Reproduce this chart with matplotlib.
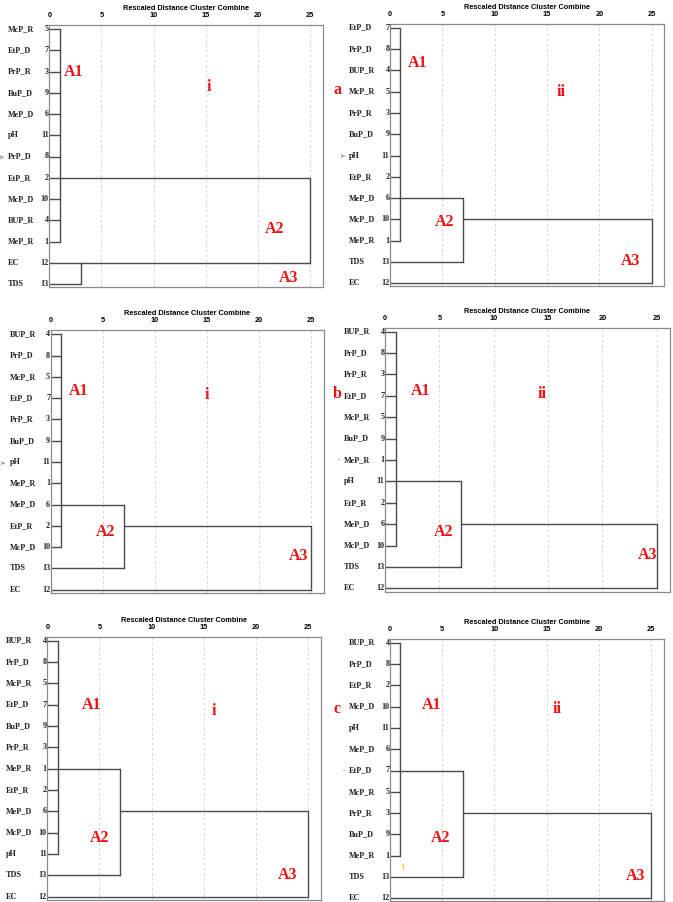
import matplotlib
matplotlib.use('Agg')
import matplotlib.pyplot as plt
import matplotlib.transforms as mtransforms

# Daten: Reihenfolge der Blätter, Fallnummern und Verknüpfungen je Dendrogramm
labels_a1 = ['McP_R', 'EtP_D', 'PrP_R', 'BuP_D', 'MeP_D', 'pH', 'PrP_D',
             'EtP_R', 'McP_D', 'BUP_R', 'MeP_R', 'EC', 'TDS']
numbers_a1 = [5, 7, 3, 9, 6, 11, 8, 2, 10, 4, 1, 12, 13]
merges_a1 = [(list(range(11)), 1, 7), ([11, 12], 3, 11), ([13, 14], 25, None)]

labels_a2 = ['EtP_D', 'PrP_D', 'BUP_R', 'McP_R', 'PrP_R', 'BuP_D', 'pH',
             'EtP_R', 'MeP_D', 'McP_D', 'MeP_R', 'TDS', 'EC']
numbers_a2 = [7, 8, 4, 5, 3, 9, 11, 2, 6, 10, 1, 13, 12]
merges_a2 = [(list(range(11)), 1, 8), ([13, 11], 7, 9), ([14, 12], 25, None)]

labels_b1 = ['BUP_R', 'PrP_D', 'McP_R', 'EtP_D', 'PrP_R', 'BuP_D', 'pH',
             'MeP_R', 'MeP_D', 'EtP_R', 'McP_D', 'TDS', 'EC']
numbers_b1 = [4, 8, 5, 7, 3, 9, 11, 1, 6, 2, 10, 13, 12]
merges_b1 = [(list(range(11)), 1, 8), ([13, 11], 7, 9), ([14, 12], 25, None)]

labels_b2 = ['BUP_R', 'PrP_D', 'PrP_R', 'EtP_D', 'McP_R', 'BuP_D', 'MeP_R',
             'pH', 'EtP_R', 'MeP_D', 'McP_D', 'TDS', 'EC']
numbers_b2 = [4, 8, 3, 7, 5, 9, 1, 11, 2, 6, 10, 13, 12]
merges_b2 = [(list(range(11)), 1, 7), ([13, 11], 7, 9), ([14, 12], 25, None)]

labels_c1 = ['BUP_R', 'PrP_D', 'McP_R', 'EtP_D', 'BuP_D', 'PrP_R', 'MeP_R',
             'EtP_R', 'MeP_D', 'McP_D', 'pH', 'TDS', 'EC']
numbers_c1 = [4, 8, 5, 7, 9, 3, 1, 2, 6, 10, 11, 13, 12]
merges_c1 = [(list(range(11)), 1, 6), ([13, 11], 7, 8), ([14, 12], 25, None)]

labels_c2 = ['BUP_R', 'PrP_D', 'EtP_R', 'McP_D', 'pH', 'MeP_D', 'EtP_D',
             'McP_R', 'PrP_R', 'BuP_D', 'MeP_R', 'TDS', 'EC']
numbers_c2 = [4, 8, 2, 10, 11, 6, 7, 5, 3, 9, 1, 13, 12]
merges_c2 = [(list(range(11)), 1, 6), ([13, 11], 7, 8), ([14, 12], 25, None)]

# Beschriftungen (Text, x-Abstand, Zeile)
notes_a1 = [('A1', 2.3, 2.0), ('i', 15.3, 2.75), ('A2', 21.6, 9.4), ('A3', 22.9, 11.7)]
notes_a2 = [('A1', 2.6, 1.67), ('ii', 16.3, 3.0), ('A2', 5.25, 9.1), ('A3', 23.0, 10.95)]
notes_b1 = [('A1', 2.65, 2.65), ('i', 15.0, 2.85), ('A2', 5.3, 9.28), ('A3', 23.8, 10.4)]
notes_b2 = [('A1', 3.3, 2.76), ('ii', 14.5, 2.93), ('A2', 5.4, 9.35), ('A3', 24.2, 10.44)]
notes_c1 = [('A1', 4.25, 3.0), ('i', 15.95, 3.3), ('A2', 5.05, 9.27), ('A3', 23.0, 10.98)]
notes_c2 = [('A1', 4.0, 2.92), ('ii', 15.97, 3.11), ('A2', 4.8, 9.18), ('A3', 23.5, 10.95)]

side_marks = ['Y', 'Y', 'Y', '-', '·', '-']
ticks = [0, 5, 10, 15, 20, 25]

W, H = 673, 902
fig = plt.figure(figsize=(W / 100, H / 100), dpi=100)

LINE = '#4a4a4a'
FRAME = '#8a8a8a'
RED = '#ee1111'


def draw_panel(geom, labels, numbers, merges, notes, mark):
    x0, x25, r0, r12, xright = geom
    unit = (x25 - x0) / 25
    sp = (r12 - r0) / 12
    xmax = (xright - x0) / unit
    top = r0 - 0.18 * sp
    bot = r12 + 0.15 * sp
    ax = fig.add_axes([x0 / W, 1 - bot / H, (xright - x0) / W, (bot - top) / H])
    ax.set_xlim(0, xmax)
    ax.set_ylim(12 + 0.15, -0.18)

    # Dendrogramm aus den Verknüpfungen zeichnen
    rows = list(range(len(labels)))
    heights = [0] * len(labels)
    for members, dist, out_row in merges:
        rs = [rows[m] for m in members]
        for m in members:
            ax.plot([heights[m], dist], [rows[m], rows[m]], color=LINE, lw=1.0,
                    solid_capstyle='butt')
        ax.plot([dist, dist], [min(rs), max(rs)], color=LINE, lw=1.0)
        rows.append(out_row)
        heights.append(dist)

    for t in ticks[1:]:
        ax.axvline(t, color='#cfcfcf', lw=0.6, ls=(0, (3, 3)), zorder=0)

    for s in ax.spines.values():
        s.set_color(FRAME)
        s.set_linewidth(0.9)

    ax.xaxis.tick_top()
    ax.set_xticks(ticks)
    ax.set_xticklabels([str(t) for t in ticks], fontsize=5.3, fontweight='bold',
                       family='Liberation Sans')
    ax.tick_params(axis='x', length=0, pad=4.5)
    ax.set_yticks([])
    ax.set_title('Rescaled Distance Cluster Combine', fontsize=5.3, fontweight='bold',
                 family='Liberation Sans', pad=11)

    lab_tr = mtransforms.offset_copy(ax.transData, fig=fig, x=-41, y=0, units='dots')
    num_tr = mtransforms.offset_copy(ax.transData, fig=fig, x=-0.5, y=0, units='dots')
    mark_tr = mtransforms.offset_copy(ax.transData, fig=fig, x=-46, y=0, units='dots')
    for i, (lab, num) in enumerate(zip(labels, numbers)):
        ax.text(0, i, lab, transform=lab_tr, ha='left', va='center', fontsize=5.9,
                fontweight='bold', family='Liberation Serif', color='#222', clip_on=False)
        ax.text(0, i, str(num), transform=num_tr, ha='right', va='center', fontsize=5.9,
                fontweight='bold', family='Liberation Serif', color='#222', clip_on=False)
    ax.text(0, 6, mark, transform=mark_tr, ha='center', va='center', fontsize=4.5,
            rotation=90 if mark == 'Y' else 0, color='#333', clip_on=False)

    for txt, x, y in notes:
        ax.text(x, y, txt, ha='center', va='center', fontsize=11.5, fontweight='bold',
                family='Liberation Serif', color=RED)
    return ax


panels = [
    ((49.3, 310.0, 29.0, 284.0, 323.3), labels_a1, numbers_a1, merges_a1, notes_a1),
    ((390.0, 651.7, 27.7, 283.3, 664.3), labels_a2, numbers_a2, merges_a2, notes_a2),
    ((50.7, 311.0, 334.3, 589.7, 324.3), labels_b1, numbers_b1, merges_b1, notes_b1),
    ((385.0, 656.7, 331.7, 588.3, 670.0), labels_b2, numbers_b2, merges_b2, notes_b2),
    ((47.3, 308.0, 640.7, 896.7, 321.0), labels_c1, numbers_c1, merges_c1, notes_c1),
    ((390.0, 651.0, 642.7, 898.3, 664.3), labels_c2, numbers_c2, merges_c2, notes_c2),
]

axes = []
for (geom, labs, nums, mrg, nts), mk in zip(panels, side_marks):
    axes.append(draw_panel(geom, labs, nums, mrg, nts, mk))

# kleiner gelber Strich im letzten Diagramm
axes[5].text(1.27, 10.6, 'I', ha='center', va='center', fontsize=5.5, fontweight='bold',
             family='Liberation Serif', color='#f2d21b')

# Zeilenbuchstaben a, b, c
for letter, ypx in [('a', 90), ('b', 394), ('c', 709)]:
    fig.text(337.5 / W, 1 - ypx / H, letter, ha='center', va='center', fontsize=11.5,
             fontweight='bold', family='Liberation Serif', color=RED)

fig.savefig('out.png', dpi=100)
